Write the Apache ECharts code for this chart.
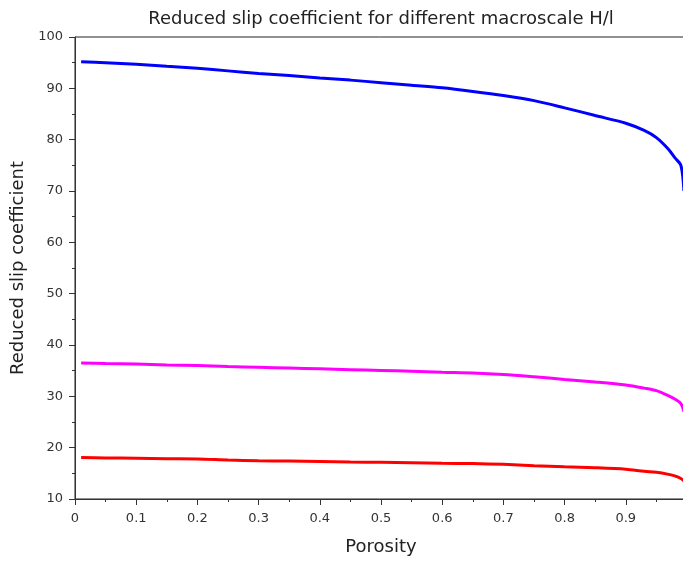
<!DOCTYPE html>
<html>
<head>
<meta charset="utf-8">
<script src="https://cdn.jsdelivr.net/npm/echarts@6/dist/echarts.min.js"></script>
<style>
html,body{margin:0;padding:0;background:#fff;}
#main{width:683px;height:563px;}
</style>
</head>
<body>
<div id="main"></div>
<script>
const porosity = [0.01, 0.05, 0.1, 0.15, 0.2, 0.25, 0.3, 0.35, 0.4, 0.45, 0.5, 0.55, 0.6, 0.65, 0.7, 0.75, 0.8, 0.85, 0.9, 0.93, 0.95, 0.97, 0.98, 0.99, 0.995];
const slipBlue = [95.2, 95.0, 94.7, 94.3, 93.9, 93.4, 92.9, 92.5, 92.0, 91.6, 91.1, 90.6, 90.1, 89.4, 88.6, 87.6, 86.2, 84.7, 83.2, 81.8, 80.4, 78.1, 76.5, 75.0, 70.0];
const slipMagenta = [36.5, 36.4, 36.3, 36.1, 36.0, 35.8, 35.65, 35.5, 35.35, 35.2, 35.05, 34.9, 34.7, 34.55, 34.25, 33.8, 33.3, 32.8, 32.2, 31.6, 31.1, 30.1, 29.5, 28.6, 27.0];
const slipRed = [18.1, 18.0, 17.95, 17.85, 17.8, 17.6, 17.45, 17.4, 17.3, 17.2, 17.15, 17.05, 16.95, 16.9, 16.75, 16.5, 16.3, 16.1, 15.8, 15.4, 15.2, 14.8, 14.5, 14.0, 13.5];
const titleText = 'Reduced slip coefficient for different macroscale H/l';
const xName = 'Porosity';
const yName = 'Reduced slip coefficient';

function pairs(xs, ys) { return xs.map((x, i) => [x, ys[i]]); }

const chart = echarts.init(document.getElementById('main'), null, {renderer: 'canvas'});
const font = 'DejaVu Sans';
chart.setOption({
  animation: false,
  backgroundColor: '#ffffff',
  title: {
    text: titleText,
    left: 376, top: 5, textAlign: 'center',
    textStyle: {fontFamily: font, fontSize: 18, fontWeight: 'normal', color: '#222'}
  },
  grid: {
    left: 75, right: -4, top: 37, bottom: 64,
    outerBoundsMode: 'none', containLabel: false,
    show: true, borderColor: '#222', borderWidth: 1, backgroundColor: 'transparent'
  },
  xAxis: {
    type: 'value', min: 0, max: 1, interval: 0.1,
    name: xName, nameLocation: 'middle', nameGap: 39,
    nameTextStyle: {fontFamily: font, fontSize: 18, color: '#222'},
    axisLine: {show: true, lineStyle: {color: '#333', width: 1}},
    axisTick: {show: true, inside: false, length: 6, lineStyle: {color: '#333'}},
    minorTick: {show: true, splitNumber: 2, length: 3, lineStyle: {color: '#333'}},
    splitLine: {show: false},
    axisLabel: {fontFamily: font, fontSize: 13, color: '#333', margin: 13,
      formatter: v => (Math.round(v * 10) / 10).toString()}
  },
  yAxis: {
    type: 'value', min: 10, max: 100, interval: 10,
    name: yName, nameLocation: 'middle', nameGap: 47,
    nameTextStyle: {fontFamily: font, fontSize: 18, color: '#222'},
    axisLine: {show: true, lineStyle: {color: '#333', width: 1}},
    axisTick: {show: true, inside: false, length: 6, lineStyle: {color: '#333'}},
    minorTick: {show: true, splitNumber: 2, length: 3, lineStyle: {color: '#333'}},
    splitLine: {show: false},
    axisLabel: {fontFamily: font, fontSize: 13, color: '#333', margin: 12}
  },
  series: [
    {type: 'line', data: pairs(porosity, slipBlue), showSymbol: false, smooth: 0.3,
      lineStyle: {color: '#0000ff', width: 3}, itemStyle: {color: '#0000ff'}},
    {type: 'line', data: pairs(porosity, slipMagenta), showSymbol: false, smooth: 0.3,
      lineStyle: {color: '#ff00ff', width: 3}, itemStyle: {color: '#ff00ff'}},
    {type: 'line', data: pairs(porosity, slipRed), showSymbol: false, smooth: 0.3,
      lineStyle: {color: '#ff0000', width: 3}, itemStyle: {color: '#ff0000'}}
  ]
});
</script>
</body>
</html>
